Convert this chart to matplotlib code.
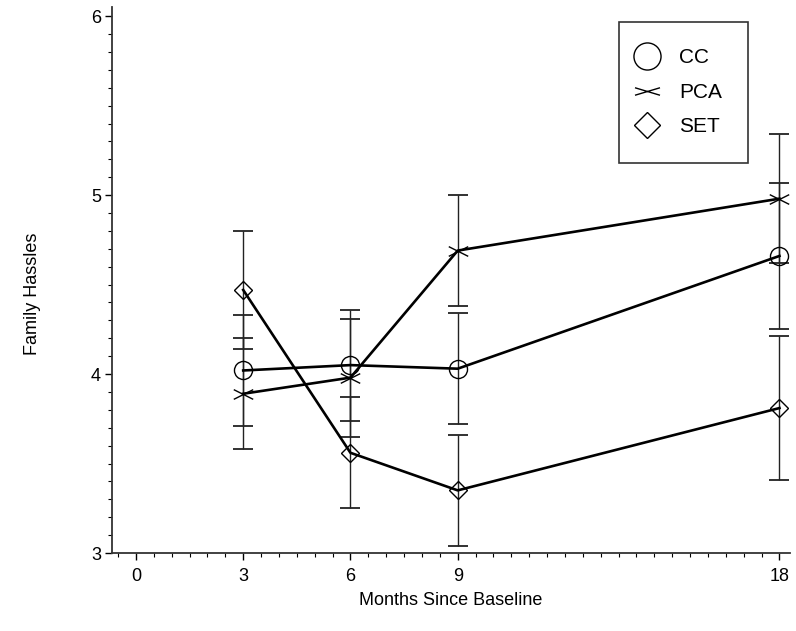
import matplotlib
matplotlib.use("Agg")
import matplotlib.pyplot as plt
from matplotlib.lines import Line2D
from matplotlib.path import Path
from matplotlib.ticker import MultipleLocator

plt.rcParams['font.family'] = ['Liberation Sans', 'DejaVu Sans']

months = [3, 6, 9, 18]
xtick_vals = [0, 3, 6, 9, 18]
labels = ["CC", "PCA", "SET"]

cc_mean = [4.02, 4.05, 4.03, 4.66]
cc_err = [0.31, 0.31, 0.31, 0.41]
pca_mean = [3.89, 3.98, 4.69, 4.98]
pca_err = [0.31, 0.33, 0.31, 0.36]
set_mean = [4.47, 3.56, 3.35, 3.81]
set_err = [0.33, 0.31, 0.31, 0.40]


def flat_cross(h):
    # squashed "x" marker, wider than tall
    return Path([(-1, -h), (1, h), (-1, h), (1, -h)],
                [Path.MOVETO, Path.LINETO, Path.MOVETO, Path.LINETO])


series = [
    (cc_mean, cc_err, 'o', 13),
    (pca_mean, pca_err, flat_cross(0.5), 14),
    (set_mean, set_err, 'D', 9),
]

fig = plt.figure(figsize=(7.96, 6.31), dpi=100)
ax = fig.add_axes([0.1407, 0.1236, 0.852, 0.865])

for mean, err, mk, ms in series:
    ax.errorbar(months, mean, yerr=err, fmt='none', ecolor='#222222',
                elinewidth=1.0, capsize=7, capthick=1.3, zorder=2)
    ax.plot(months, mean, color='black', lw=1.9, marker=mk, ms=ms,
            mfc='none', mec='black', mew=1.0, zorder=3)

ax.set_xlim(-0.67, 18.3)
ax.set_ylim(3, 6.05)
ax.set_xticks(xtick_vals)
ax.xaxis.set_minor_locator(MultipleLocator(0.5))
ax.set_yticks([3, 4, 5, 6])
ax.yaxis.set_minor_locator(MultipleLocator(0.1))
ax.tick_params(axis='both', which='major', labelsize=13, length=5, width=1, direction='out')
ax.tick_params(axis='both', which='minor', length=3, width=0.8, direction='out')
ax.tick_params(axis='x', pad=6)
ax.tick_params(axis='y', pad=3)

for s in ['top', 'right']:
    ax.spines[s].set_visible(False)
for s in ['left', 'bottom']:
    ax.spines[s].set_linewidth(1.3)
    ax.spines[s].set_color('#333333')

ax.set_xlabel("Months Since Baseline", fontsize=13, labelpad=5)
ax.set_ylabel("Family Hassles", fontsize=13)
ax.yaxis.set_label_coords(-0.105, 0.475)

handles = [
    Line2D([], [], ls='none', marker='o', ms=19.5, mfc='none', mec='black', mew=1.0),
    Line2D([], [], ls='none', marker=flat_cross(0.3), ms=18, mfc='none', mec='black', mew=1.0),
    Line2D([], [], ls='none', marker='D', ms=13.5, mfc='none', mec='black', mew=1.0),
]
leg = ax.legend(handles, labels, loc='upper left', bbox_to_anchor=(0.748, 0.9725),
                borderaxespad=0, fontsize=15, frameon=True, fancybox=False,
                edgecolor='black', borderpad=1.25, labelspacing=0.75,
                handletextpad=1.44, handlelength=0.2)
leg.get_frame().set_linewidth(1.2)

fig.savefig("out.png", dpi=100)
